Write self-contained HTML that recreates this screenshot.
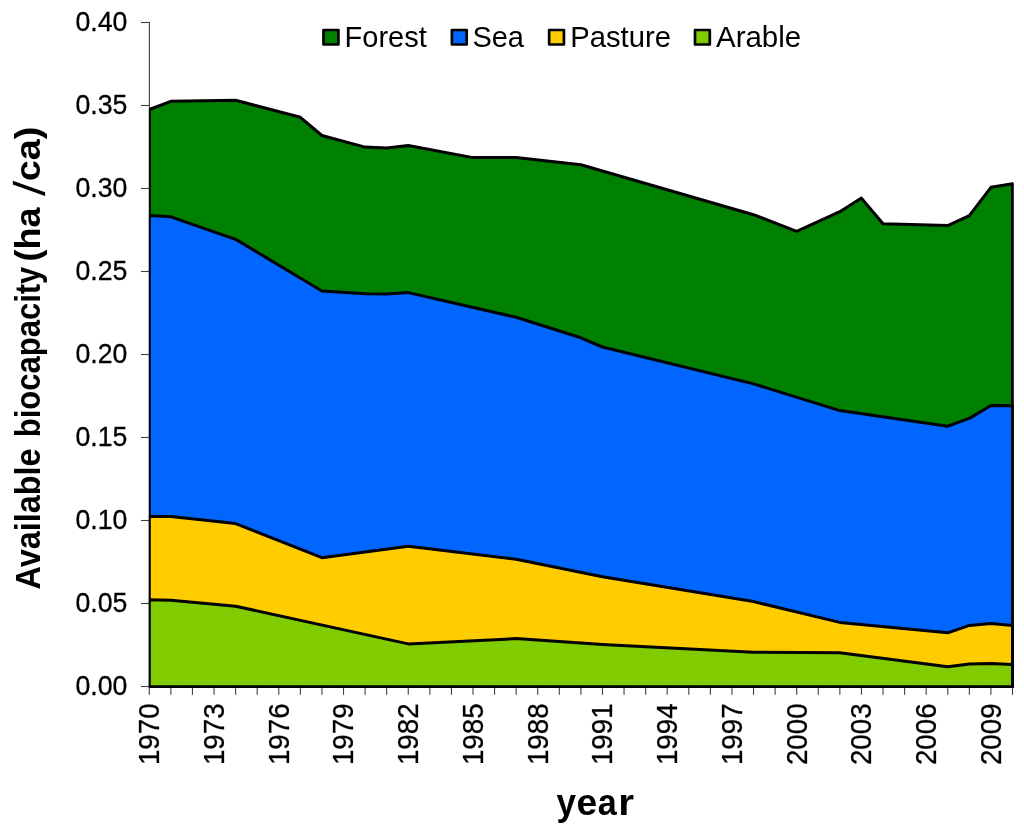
<!DOCTYPE html>
<html><head><meta charset="utf-8"><title>Available biocapacity</title>
<style>
html,body{margin:0;padding:0;background:#fff;}
body{width:1024px;height:830px;overflow:hidden;font-family:"Liberation Sans",sans-serif;}
svg{display:block;will-change:transform;font-family:"Liberation Sans",sans-serif;}
</style></head><body>
<svg width="1024" height="830" viewBox="0 0 1024 830">
<rect width="1024" height="830" fill="#fff"/>
<defs><clipPath id="pc"><rect x="148.9" y="0" width="864.9" height="687.8"/></clipPath></defs>
<g stroke="#404040" stroke-width="1.1" fill="none">
<line x1="149.40" y1="22" x2="149.40" y2="686.50"/>
<line x1="149.30" y1="686.50" x2="1012.50" y2="686.50"/>
<line x1="141" y1="686.50" x2="149.40" y2="686.50"/>
<line x1="141" y1="603.50" x2="149.40" y2="603.50"/>
<line x1="141" y1="520.50" x2="149.40" y2="520.50"/>
<line x1="141" y1="437.50" x2="149.40" y2="437.50"/>
<line x1="141" y1="354.50" x2="149.40" y2="354.50"/>
<line x1="141" y1="271.50" x2="149.40" y2="271.50"/>
<line x1="141" y1="188.50" x2="149.40" y2="188.50"/>
<line x1="141" y1="105.50" x2="149.40" y2="105.50"/>
<line x1="141" y1="22.50" x2="149.40" y2="22.50"/>
<line x1="149.30" y1="686.50" x2="149.30" y2="694.8"/>
<line x1="170.88" y1="686.50" x2="170.88" y2="694.8"/>
<line x1="192.46" y1="686.50" x2="192.46" y2="694.8"/>
<line x1="214.04" y1="686.50" x2="214.04" y2="694.8"/>
<line x1="235.62" y1="686.50" x2="235.62" y2="694.8"/>
<line x1="257.20" y1="686.50" x2="257.20" y2="694.8"/>
<line x1="278.78" y1="686.50" x2="278.78" y2="694.8"/>
<line x1="300.36" y1="686.50" x2="300.36" y2="694.8"/>
<line x1="321.94" y1="686.50" x2="321.94" y2="694.8"/>
<line x1="343.52" y1="686.50" x2="343.52" y2="694.8"/>
<line x1="365.10" y1="686.50" x2="365.10" y2="694.8"/>
<line x1="386.68" y1="686.50" x2="386.68" y2="694.8"/>
<line x1="408.26" y1="686.50" x2="408.26" y2="694.8"/>
<line x1="429.84" y1="686.50" x2="429.84" y2="694.8"/>
<line x1="451.42" y1="686.50" x2="451.42" y2="694.8"/>
<line x1="473.00" y1="686.50" x2="473.00" y2="694.8"/>
<line x1="494.58" y1="686.50" x2="494.58" y2="694.8"/>
<line x1="516.16" y1="686.50" x2="516.16" y2="694.8"/>
<line x1="537.74" y1="686.50" x2="537.74" y2="694.8"/>
<line x1="559.32" y1="686.50" x2="559.32" y2="694.8"/>
<line x1="580.90" y1="686.50" x2="580.90" y2="694.8"/>
<line x1="602.48" y1="686.50" x2="602.48" y2="694.8"/>
<line x1="624.06" y1="686.50" x2="624.06" y2="694.8"/>
<line x1="645.64" y1="686.50" x2="645.64" y2="694.8"/>
<line x1="667.22" y1="686.50" x2="667.22" y2="694.8"/>
<line x1="688.80" y1="686.50" x2="688.80" y2="694.8"/>
<line x1="710.38" y1="686.50" x2="710.38" y2="694.8"/>
<line x1="731.96" y1="686.50" x2="731.96" y2="694.8"/>
<line x1="753.54" y1="686.50" x2="753.54" y2="694.8"/>
<line x1="775.12" y1="686.50" x2="775.12" y2="694.8"/>
<line x1="796.70" y1="686.50" x2="796.70" y2="694.8"/>
<line x1="818.28" y1="686.50" x2="818.28" y2="694.8"/>
<line x1="839.86" y1="686.50" x2="839.86" y2="694.8"/>
<line x1="861.44" y1="686.50" x2="861.44" y2="694.8"/>
<line x1="883.02" y1="686.50" x2="883.02" y2="694.8"/>
<line x1="904.60" y1="686.50" x2="904.60" y2="694.8"/>
<line x1="926.18" y1="686.50" x2="926.18" y2="694.8"/>
<line x1="947.76" y1="686.50" x2="947.76" y2="694.8"/>
<line x1="969.34" y1="686.50" x2="969.34" y2="694.8"/>
<line x1="990.92" y1="686.50" x2="990.92" y2="694.8"/>
<line x1="1012.50" y1="686.50" x2="1012.50" y2="694.8"/>
</g>

<g clip-path="url(#pc)">
<path d="M149.30,686.80 L149.30,109.50 L170.88,101.30 L235.62,100.30 L300.36,117.30 L321.94,135.50 L365.10,147.10 L386.68,147.90 L408.26,145.50 L473.00,157.60 L516.16,157.50 L580.90,164.70 L753.54,214.70 L796.70,231.30 L839.86,211.70 L861.44,198.10 L883.02,223.80 L947.76,225.60 L969.34,215.60 L990.92,187.30 L1012.50,183.80 L1012.50,686.80 Z" fill="#008000" stroke="#000" stroke-width="3.0" stroke-linejoin="round"/>
<path d="M149.30,686.80 L149.30,215.40 L170.88,216.80 L235.62,239.30 L321.94,291.00 L365.10,293.80 L386.68,294.10 L408.26,292.60 L516.16,317.30 L580.90,337.80 L602.48,347.00 L753.54,383.90 L839.86,410.60 L947.76,426.20 L969.34,418.40 L990.92,405.50 L1012.50,405.70 L1012.50,686.80 Z" fill="#0066ff" stroke="#000" stroke-width="3.0" stroke-linejoin="round"/>
<path d="M149.30,686.80 L149.30,516.40 L170.88,516.40 L235.62,523.60 L321.94,557.70 L408.26,546.30 L516.16,559.30 L602.48,576.80 L753.54,601.60 L839.86,622.40 L947.76,632.80 L969.34,625.40 L990.92,623.40 L1012.50,625.40 L1012.50,686.80 Z" fill="#ffcc00" stroke="#000" stroke-width="3.0" stroke-linejoin="round"/>
<path d="M149.30,686.80 L149.30,599.70 L170.88,600.30 L235.62,606.20 L408.26,643.90 L516.16,638.60 L602.48,644.50 L753.54,652.30 L839.86,652.70 L947.76,666.80 L969.34,664.00 L990.92,663.60 L1012.50,664.40 L1012.50,686.80 Z" fill="#80cc00" stroke="#000" stroke-width="3.0" stroke-linejoin="round"/>
</g>
<g font-size="27.7" fill="#000" stroke="#000" stroke-width="0.3" text-anchor="end">
<text transform="translate(127.4,695.45) scale(0.963,1)">0.00</text>
<text transform="translate(127.4,612.45) scale(0.963,1)">0.05</text>
<text transform="translate(127.4,529.45) scale(0.963,1)">0.10</text>
<text transform="translate(127.4,446.45) scale(0.963,1)">0.15</text>
<text transform="translate(127.4,363.45) scale(0.963,1)">0.20</text>
<text transform="translate(127.4,280.45) scale(0.963,1)">0.25</text>
<text transform="translate(127.4,197.45) scale(0.963,1)">0.30</text>
<text transform="translate(127.4,114.45) scale(0.963,1)">0.35</text>
<text transform="translate(127.4,31.45) scale(0.963,1)">0.40</text>
</g>

<g font-size="29.5" fill="#000" stroke="#000" stroke-width="0.3" text-anchor="end">
<text transform="translate(159.25,703.4) rotate(-90) scale(0.94,1)">1970</text>
<text transform="translate(223.99,703.4) rotate(-90) scale(0.94,1)">1973</text>
<text transform="translate(288.73,703.4) rotate(-90) scale(0.94,1)">1976</text>
<text transform="translate(353.47,703.4) rotate(-90) scale(0.94,1)">1979</text>
<text transform="translate(418.21,703.4) rotate(-90) scale(0.94,1)">1982</text>
<text transform="translate(482.95,703.4) rotate(-90) scale(0.94,1)">1985</text>
<text transform="translate(547.69,703.4) rotate(-90) scale(0.94,1)">1988</text>
<text transform="translate(612.43,703.4) rotate(-90) scale(0.94,1)">1991</text>
<text transform="translate(677.17,703.4) rotate(-90) scale(0.94,1)">1994</text>
<text transform="translate(741.91,703.4) rotate(-90) scale(0.94,1)">1997</text>
<text transform="translate(806.65,703.4) rotate(-90) scale(0.94,1)">2000</text>
<text transform="translate(871.39,703.4) rotate(-90) scale(0.94,1)">2003</text>
<text transform="translate(936.13,703.4) rotate(-90) scale(0.94,1)">2006</text>
<text transform="translate(1000.87,703.4) rotate(-90) scale(0.94,1)">2009</text>
</g>

<!--LEGEND-->
<g font-size="29" fill="#000" stroke-linejoin="round">
<rect x="323.5" y="30.0" width="14.9" height="14.5" fill="#008000" stroke="#000" stroke-width="2.7"/>
<text x="344.6" y="46.9">Forest</text>
<rect x="451.9" y="30.0" width="14.8" height="14.5" fill="#0066ff" stroke="#000" stroke-width="2.7"/>
<text x="472.4" y="46.9">Sea</text>
<rect x="549.15" y="30.0" width="14.8" height="14.5" fill="#ffcc00" stroke="#000" stroke-width="2.7"/>
<text transform="translate(570.3,46.9) scale(1.007,1)">Pasture</text>
<rect x="695.0" y="30.0" width="14.8" height="14.5" fill="#80cc00" stroke="#000" stroke-width="2.7"/>
<text transform="translate(716.0,46.9) scale(1.017,1)">Arable</text>
</g>
<!--TITLES-->
<g font-size="37" font-weight="bold" fill="#000">
<text transform="translate(556.53,815.1) scale(0.947,1)">y</text>
<text transform="translate(576.59,815.1) scale(1.008,1)">e</text>
<text transform="translate(597.68,815.1) scale(0.922,1)">a</text>
<text transform="translate(618.17,815.1) scale(1.093,1)">r</text>
</g>
<g font-size="34.3" font-weight="bold" text-anchor="middle" fill="#000">
<text transform="translate(39.8,518.95) rotate(-90) scale(0.945,1)">Available</text>
<text transform="translate(39.8,351.95) rotate(-90) scale(0.904,1)">biocapacity</text>
<text transform="translate(39.8,234.6) rotate(-90) scale(1.05,1)">(ha</text>
<path d="M12.8,180.8 L12.8,184.6 L45.1,196.1 L45.1,192.2 Z" fill="#000"/>
<text transform="translate(39.8,154.0) rotate(-90) scale(1.10,1)">ca)</text>
</g>
</svg>
</body></html>
